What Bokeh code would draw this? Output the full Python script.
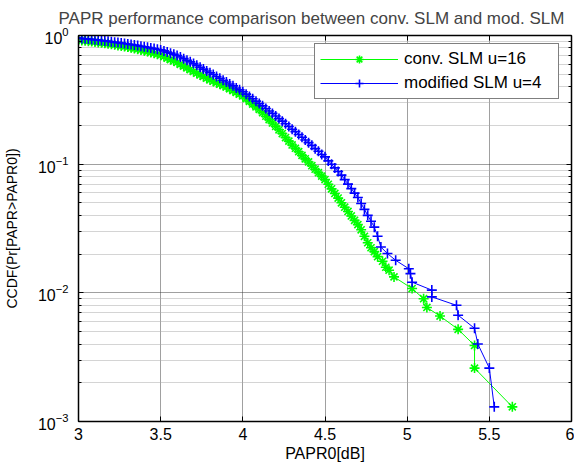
from bokeh.plotting import figure
from bokeh.models import (FixedTicker, LogAxis, LinearAxis, Legend, LegendItem,
                          CustomJSTickFormatter, Range1d)
from bokeh.embed import file_html
from bokeh.resources import INLINE

# ---- data ----
conv_x = [3.00, 3.02, 3.04, 3.06, 3.08, 3.10, 3.12, 3.14, 3.16, 3.18, 3.20, 3.22, 3.24,
          3.26, 3.28, 3.30, 3.32, 3.34, 3.36, 3.38, 3.40, 3.42, 3.44, 3.46, 3.48, 3.50,
          3.52, 3.54, 3.56, 3.58, 3.60, 3.62, 3.64, 3.66, 3.68, 3.70, 3.72, 3.74, 3.76,
          3.78, 3.80, 3.82, 3.84, 3.86, 3.88, 3.90, 3.92, 3.94, 3.96, 3.98, 4.00, 4.02,
          4.04, 4.06, 4.08, 4.10, 4.12, 4.14, 4.16, 4.18, 4.20, 4.22, 4.24, 4.26, 4.28,
          4.30, 4.32, 4.34, 4.36, 4.38, 4.40, 4.42, 4.44, 4.46, 4.48, 4.50, 4.52, 4.54,
          4.56, 4.58, 4.60, 4.62, 4.64, 4.66, 4.68, 4.70, 4.72, 4.74, 4.76, 4.78, 4.80,
          4.82, 4.85, 4.87, 4.89, 4.92, 5.03, 5.10, 5.12, 5.20, 5.31, 5.41, 5.41, 5.64]
conv_y = [0.923, 0.916, 0.910, 0.904, 0.897, 0.891, 0.883, 0.877, 0.869, 0.863, 0.855,
          0.847, 0.838, 0.830, 0.820, 0.813, 0.802, 0.792, 0.782, 0.773, 0.762, 0.750,
          0.738, 0.728, 0.716, 0.705, 0.686, 0.668, 0.650, 0.634, 0.617, 0.597, 0.578,
          0.560, 0.542, 0.525, 0.509, 0.494, 0.480, 0.466, 0.452, 0.441, 0.430, 0.419,
          0.408, 0.398, 0.385, 0.373, 0.361, 0.350, 0.339, 0.323, 0.308, 0.293, 0.279,
          0.266, 0.251, 0.236, 0.222, 0.209, 0.197, 0.185, 0.173, 0.161, 0.151, 0.141,
          0.133, 0.125, 0.117, 0.110, 0.104, 0.0973, 0.0914, 0.0859, 0.0807, 0.0759,
          0.0698, 0.0643, 0.0592, 0.0545, 0.0501, 0.0463, 0.0429, 0.0396, 0.0366,
          0.0339, 0.0309, 0.0275, 0.0245, 0.0224, 0.0209, 0.0191, 0.0176, 0.0158,
          0.0150, 0.0133, 0.0108, 0.0090, 0.0077, 0.0066, 0.0052, 0.0039, 0.0026, 0.0013]

mod_x = [3.00, 3.02, 3.04, 3.06, 3.08, 3.10, 3.12, 3.14, 3.16, 3.18, 3.20, 3.22, 3.24,
         3.26, 3.28, 3.30, 3.32, 3.34, 3.36, 3.38, 3.40, 3.42, 3.44, 3.46, 3.48, 3.50,
         3.52, 3.54, 3.56, 3.58, 3.60, 3.62, 3.64, 3.66, 3.68, 3.70, 3.72, 3.74, 3.76,
         3.78, 3.80, 3.82, 3.84, 3.86, 3.88, 3.90, 3.92, 3.94, 3.96, 3.98, 4.00, 4.02,
         4.04, 4.06, 4.08, 4.10, 4.12, 4.14, 4.16, 4.18, 4.20, 4.22, 4.24, 4.26, 4.28,
         4.30, 4.32, 4.34, 4.36, 4.38, 4.40, 4.42, 4.44, 4.46, 4.48, 4.50, 4.52, 4.54,
         4.56, 4.58, 4.60, 4.62, 4.64, 4.66, 4.68, 4.70, 4.72, 4.74, 4.76, 4.78, 4.80,
         4.82, 4.84, 4.88, 4.93, 5.01, 5.02, 5.03, 5.15, 5.15, 5.30, 5.31, 5.41, 5.43,
         5.50, 5.53]
mod_y = [0.955, 0.948, 0.944, 0.938, 0.933, 0.927, 0.920, 0.914, 0.908, 0.902, 0.895,
         0.887, 0.881, 0.873, 0.867, 0.859, 0.851, 0.843, 0.836, 0.826, 0.818, 0.809,
         0.800, 0.791, 0.782, 0.773, 0.759, 0.743, 0.729, 0.715, 0.700, 0.681, 0.661,
         0.641, 0.624, 0.605, 0.586, 0.566, 0.548, 0.530, 0.513, 0.497, 0.480, 0.465,
         0.449, 0.435, 0.420, 0.406, 0.391, 0.378, 0.365, 0.350, 0.336, 0.322, 0.309,
         0.296, 0.284, 0.271, 0.259, 0.248, 0.237, 0.226, 0.216, 0.206, 0.196, 0.187,
         0.179, 0.170, 0.162, 0.154, 0.147, 0.140, 0.132, 0.126, 0.119, 0.114, 0.106,
         0.0998, 0.0935, 0.0877, 0.0822, 0.0759, 0.0700, 0.0646, 0.0596, 0.0550,
         0.0494, 0.0445, 0.0400, 0.0360, 0.0324, 0.0275, 0.0227, 0.0202, 0.0179,
         0.0154, 0.0141, 0.0121, 0.0105, 0.0093, 0.0080, 0.0067, 0.0053, 0.0040,
         0.0026, 0.0013]

x_ticks = [3, 3.5, 4, 4.5, 5, 5.5, 6]
x_tick_labels = ["3", "3.5", "4", "4.5", "5", "5.5", "6"]
y_ticks = [0.001, 0.01, 0.1, 1]
y_minor = [m * d for d in [0.001, 0.01, 0.1] for m in range(2, 10)]

series_labels = ["conv. SLM u=16", "modified SLM u=4"]
title_text = "PAPR performance comparison between conv. SLM and mod. SLM"

FONT = "Liberation Sans"
GREEN = "#00ff00"
BLUE = "#0000ff"

p = figure(width=574, height=468, x_range=Range1d(3, 6), y_range=Range1d(0.001, 1),
           y_axis_type="log", output_backend="svg", toolbar_location=None,
           min_border_left=78, min_border_right=3, min_border_top=35,
           min_border_bottom=47, title=title_text)

p.background_fill_color = "white"
p.border_fill_color = "white"
p.outline_line_color = "black"
p.outline_line_width = 1

p.title.text_font = FONT
p.title.text_font_size = "17px"
p.title.text_font_style = "normal"
p.title.align = "left"
p.title.offset = -20
p.title.vertical_align = "top"
p.title.standoff = 12

# main axes
xa = p.xaxis[0]
xa.ticker = FixedTicker(ticks=x_ticks)
xa.major_label_overrides = dict(zip(x_ticks, x_tick_labels))
xa.axis_label = "PAPR0[dB]"
ya = p.yaxis[0]
ya.ticker = FixedTicker(ticks=y_ticks, minor_ticks=y_minor)
ya.axis_label = "CCDF(Pr[PAPR>PAPR0])"

for ax in (xa, ya):
    ax.major_tick_in = 5
    ax.major_tick_out = 0
    ax.minor_tick_in = 3
    ax.minor_tick_out = 0
    ax.axis_line_color = "black"
    ax.axis_line_width = 1.5
    ax.major_tick_line_color = "black"
    ax.minor_tick_line_color = "black"
    ax.major_label_text_font = FONT
    ax.major_label_text_color = "black"
    ax.axis_label_text_font = FONT
    ax.axis_label_text_font_style = "normal"
    ax.axis_label_text_color = "black"

xa.major_label_text_font_size = "16px"
xa.major_label_standoff = 6
xa.axis_label_text_font_size = "16px"
xa.axis_label_standoff = 2
ya.major_label_text_font_size = "16px"
ya.major_label_standoff = 10
ya.axis_label_text_font_size = "14px"
ya.axis_label_standoff = 15

# box axes (ticks only)
top = LinearAxis(ticker=FixedTicker(ticks=x_ticks),
                 formatter=CustomJSTickFormatter(code="return ''"))
right = LogAxis(ticker=FixedTicker(ticks=y_ticks, minor_ticks=y_minor),
                formatter=CustomJSTickFormatter(code="return ''"))
for ax in (top, right):
    ax.major_tick_in = 5
    ax.major_tick_out = 0
    ax.minor_tick_in = 3
    ax.minor_tick_out = 0
    ax.major_label_standoff = 0
    ax.axis_line_color = "black"
    ax.axis_line_width = 1.5
p.add_layout(top, "above")
p.add_layout(right, "right")

# grids
p.xgrid.grid_line_color = "#a0a0a0"
p.xgrid.grid_line_width = 1
p.ygrid.grid_line_color = "#404040"
p.ygrid.grid_line_dash = "1 1"
p.ygrid.minor_grid_line_color = "#a8a8a8"
p.ygrid.minor_grid_line_dash = "1 1"

# series
g_line = p.line(conv_x, conv_y, line_color=GREEN, line_width=1)
g_pts = p.scatter(conv_x, conv_y, marker="asterisk", size=10, line_color=GREEN,
                  line_width=1.6)
b_line = p.line(mod_x, mod_y, line_color=BLUE, line_width=1)
b_pts = p.scatter(mod_x, mod_y, marker="cross", size=10, line_color=BLUE,
                  line_width=1.6)

legend = Legend(items=[LegendItem(label=series_labels[0], renderers=[g_line, g_pts]),
                       LegendItem(label=series_labels[1], renderers=[b_line, b_pts])],
                location=(236, 322))
legend.border_line_color = "black"
legend.border_line_width = 1
legend.background_fill_color = "white"
legend.background_fill_alpha = 1
legend.label_text_font = FONT
legend.label_text_font_size = "17px"
legend.label_text_color = "black"
legend.glyph_width = 78
legend.glyph_height = 20
legend.label_height = 20
legend.label_width = 149
legend.label_standoff = 6
legend.padding = 5
legend.spacing = 4
legend.margin = 0
p.add_layout(legend)

open("out.html", "w").write(file_html(p, INLINE))
